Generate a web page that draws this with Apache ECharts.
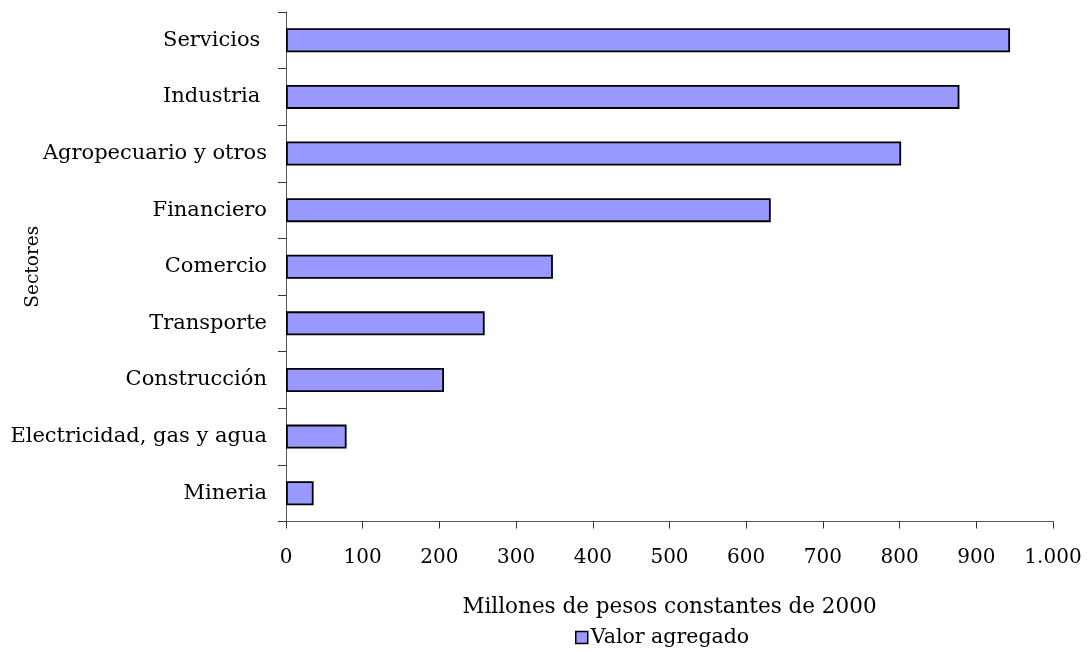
<!DOCTYPE html>
<html>
<head>
<meta charset="utf-8">
<script src="https://cdn.jsdelivr.net/npm/echarts@6/dist/echarts.min.js"></script>
<style>
html,body{margin:0;padding:0;background:#fff;}
#chart{width:1090px;height:652px;}
</style>
</head>
<body>
<div id="chart"></div>
<script>
var categories = ['Mineria', 'Electricidad, gas y agua', 'Construcción', 'Transporte', 'Comercio', 'Financiero', 'Agropecuario y otros', 'Industria ', 'Servicios '];
var values = [36, 79, 206, 259, 348, 632, 802, 878, 944];
var xTicks = [0, 100, 200, 300, 400, 500, 600, 700, 800, 900, 1000];
var xTickLabels = ['0', '100', '200', '300', '400', '500', '600', '700', '800', '900', '1.000'];
var seriesName = 'Valor agregado';
var xName = 'Millones de pesos constantes de 2000';
var yName = 'Sectores';

var FONT = 'DejaVu Serif';
var chart = echarts.init(document.getElementById('chart'));
chart.setOption({
  animation: false,
  backgroundColor: '#fff',
  textStyle: {fontFamily: FONT, color: '#000'},
  grid: {left: 286, right: 37, top: 12, bottom: 130.5, containLabel: false, outerBoundsMode: 'none'},
  legend: {
    top: 622, left: 570,
    itemWidth: 12, itemHeight: 12, itemGap: 4,
    icon: 'rect',
    itemStyle: {color: '#9999FF', borderColor: '#000', borderWidth: 1.5},
    textStyle: {fontFamily: FONT, fontSize: 20.5, color: '#000', padding: [0,0,0,-2]},
    data: [seriesName]
  },
  xAxis: {
    type: 'value',
    min: xTicks[0], max: xTicks[xTicks.length-1], interval: xTicks[1] - xTicks[0],
    name: xName, nameLocation: 'middle', nameGap: 75,
    nameTextStyle: {fontFamily: FONT, fontSize: 21.5, color: '#000'},
    nameMoveOverlap: false,
    axisLine: {show: true, lineStyle: {color: '#555', width: 1}},
    axisTick: {show: true, length: 7, lineStyle: {color: '#333'}},
    splitLine: {show: false},
    axisLabel: {
      margin: 26, fontFamily: FONT, fontSize: 20, color: '#000',
      formatter: function (v) { var i = xTicks.indexOf(v); return i >= 0 ? xTickLabels[i] : ''; }
    }
  },
  yAxis: {
    type: 'category', data: categories,
    name: yName, nameLocation: 'middle', nameGap: 243, nameRotate: 90,
    nameMoveOverlap: false,
    nameTextStyle: {fontFamily: FONT, fontSize: 18.5, color: '#000'},
    axisLine: {show: true, lineStyle: {color: '#555', width: 1}},
    axisTick: {show: true, length: 8, lineStyle: {color: '#333'}},
    axisLabel: {margin: 19, fontFamily: FONT, fontSize: 21, color: '#000'}
  },
  series: [{
    name: seriesName, type: 'bar', data: values,
    barWidth: 24,
    itemStyle: {color: '#9999FF', borderColor: '#000', borderWidth: 1.8}
  }]
});
</script>
</body>
</html>
